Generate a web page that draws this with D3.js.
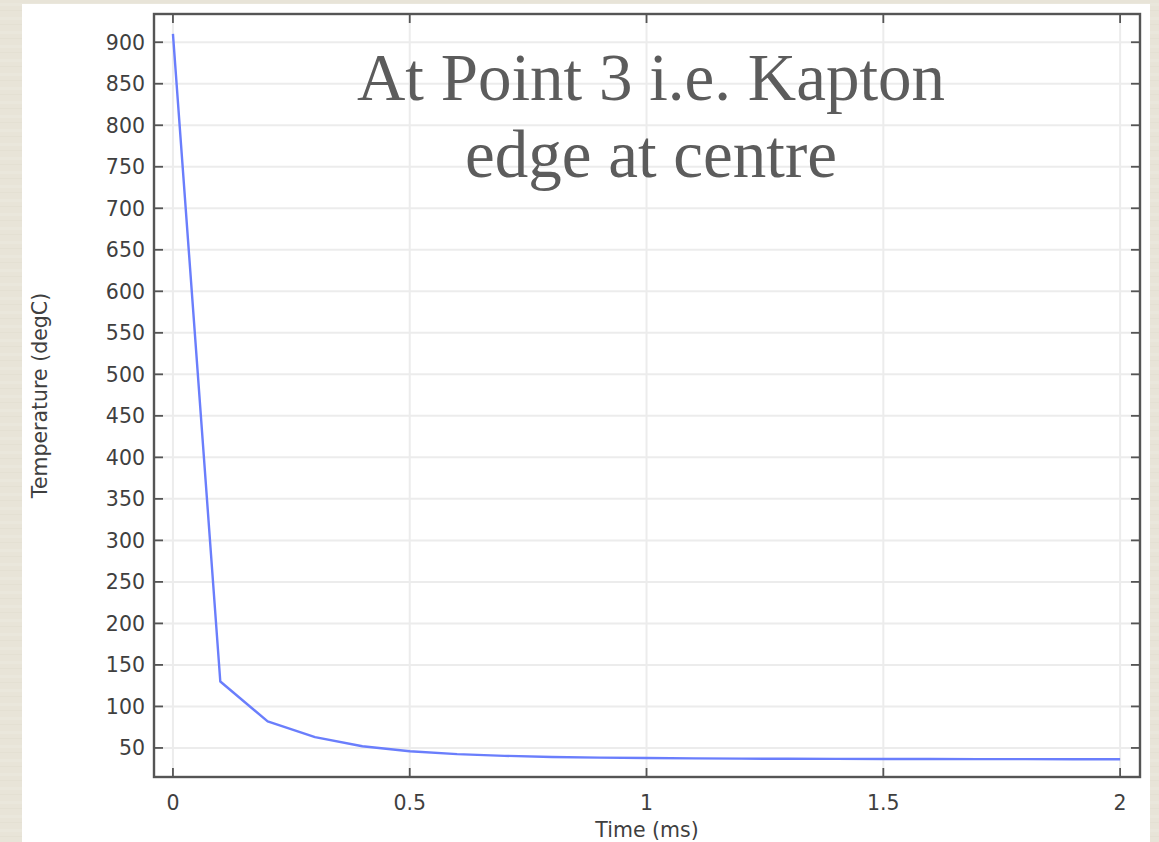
<!DOCTYPE html>
<html>
<head>
<meta charset="utf-8">
<script src="https://cdn.jsdelivr.net/npm/d3@7"></script>
<style>
  html, body { margin: 0; padding: 0; background: #e8e4d8; }
  svg { display: block; }
</style>
</head>
<body>
<svg id="chart" width="1159" height="842"></svg>
<script>
// Temperature history at point 3 (Kapton edge at centre)
const timeMs = [0, 0.1, 0.2, 0.3, 0.4, 0.5, 0.6, 0.7, 0.8, 0.9, 1.0,
                1.1, 1.2, 1.3, 1.4, 1.5, 1.6, 1.7, 1.8, 1.9, 2.0];
const tempDegC = [910, 130, 82, 63, 52, 46, 42.5, 40.5, 39, 38.3, 37.8,
                  37.4, 37.1, 36.9, 36.8, 36.7, 36.6, 36.5, 36.5, 36.4, 36.4];

const xTicks = [0, 0.5, 1, 1.5, 2];
const xTickLabels = ["0", "0.5", "1", "1.5", "2"];
const yTicks = d3.range(50, 901, 50);
const titleLines = ["At Point 3 i.e. Kapton", "edge at centre"];
const xLabel = "Time (ms)";
const yLabel = "Temperature (degC)";

const svg = d3.select("#chart");
const W = 1159, H = 842;

// plot frame
const plot = { left: 154, right: 1140, top: 14, bottom: 777 };

const x = d3.scaleLinear().domain([-0.04, 2.042]).range([plot.left, plot.right]);
const y = d3.scaleLinear().domain([15, 934]).range([plot.bottom, plot.top]);

// textured page background
const defs = svg.append("defs");
const pat = defs.append("pattern")
  .attr("id", "paper").attr("patternUnits", "userSpaceOnUse")
  .attr("width", 40).attr("height", 14);
pat.append("rect").attr("width", 40).attr("height", 14).attr("fill", "#e8e4d8");
pat.append("rect").attr("y", 3).attr("width", 40).attr("height", 3).attr("fill", "#eae7dc");
pat.append("rect").attr("y", 10).attr("width", 40).attr("height", 1).attr("fill", "#e4e0d3");
svg.append("rect").attr("width", W).attr("height", H).attr("fill", "url(#paper)");

// white figure panel
svg.append("rect")
  .attr("x", 22).attr("y", 4).attr("width", 1128).attr("height", H)
  .attr("fill", "#ffffff");

const gridColor = "#ececec";
const axisColor = "#555555";
const textColor = "#3f3f3f";

// grid lines
svg.append("g").selectAll("line.hgrid").data(yTicks).join("line")
  .attr("x1", plot.left).attr("x2", plot.right)
  .attr("y1", d => y(d)).attr("y2", d => y(d))
  .attr("stroke", gridColor).attr("stroke-width", 2);
svg.append("g").selectAll("line.vgrid").data(xTicks).join("line")
  .attr("x1", d => x(d)).attr("x2", d => x(d))
  .attr("y1", plot.top).attr("y2", plot.bottom)
  .attr("stroke", gridColor).attr("stroke-width", 2);

// data line
const line = d3.line().x((d, i) => x(timeMs[i])).y(d => y(d));
svg.append("path")
  .datum(tempDegC)
  .attr("d", line)
  .attr("fill", "none")
  .attr("stroke", "#6a7efc")
  .attr("stroke-width", 2.4)
  .attr("stroke-linejoin", "round");

// frame
svg.append("rect")
  .attr("x", plot.left).attr("y", plot.top)
  .attr("width", plot.right - plot.left).attr("height", plot.bottom - plot.top)
  .attr("fill", "none").attr("stroke", axisColor).attr("stroke-width", 2.4);

// inward ticks on all four sides
const tickLen = 9;
const tg = svg.append("g").attr("stroke", axisColor).attr("stroke-width", 1.8);
tg.selectAll("line.yl").data(yTicks).join("line")
  .attr("x1", plot.left).attr("x2", plot.left + tickLen)
  .attr("y1", d => y(d)).attr("y2", d => y(d));
tg.selectAll("line.yr").data(yTicks).join("line")
  .attr("x1", plot.right).attr("x2", plot.right - tickLen)
  .attr("y1", d => y(d)).attr("y2", d => y(d));
tg.selectAll("line.xb").data(xTicks).join("line")
  .attr("x1", d => x(d)).attr("x2", d => x(d))
  .attr("y1", plot.bottom).attr("y2", plot.bottom - tickLen);
tg.selectAll("line.xt").data(xTicks).join("line")
  .attr("x1", d => x(d)).attr("x2", d => x(d))
  .attr("y1", plot.top).attr("y2", plot.top + tickLen);

// tick labels
const tickFont = "'DejaVu Sans', sans-serif";
const tickSize = 20.5;
svg.append("g").selectAll("text").data(yTicks).join("text")
  .attr("x", plot.left - 9).attr("y", d => y(d))
  .attr("dy", "0.36em")
  .attr("text-anchor", "end")
  .attr("font-family", tickFont).attr("font-size", tickSize)
  .attr("fill", textColor)
  .text(d => d);
svg.append("g").selectAll("text").data(xTicks).join("text")
  .attr("x", d => x(d)).attr("y", 810)
  .attr("text-anchor", "middle")
  .attr("font-family", tickFont).attr("font-size", tickSize)
  .attr("fill", textColor)
  .text((d, i) => xTickLabels[i]);

// axis titles
svg.append("text")
  .attr("x", (plot.left + plot.right) / 2).attr("y", 837)
  .attr("text-anchor", "middle")
  .attr("font-family", tickFont).attr("font-size", tickSize)
  .attr("fill", textColor)
  .text(xLabel);
svg.append("text")
  .attr("transform", `translate(47,${(plot.top + plot.bottom) / 2}) rotate(-90)`)
  .attr("text-anchor", "middle")
  .attr("font-family", tickFont).attr("font-size", tickSize)
  .attr("fill", textColor)
  .text(yLabel);

// overlaid title
svg.append("g").selectAll("text").data(titleLines).join("text")
  .attr("x", 651).attr("y", (d, i) => 100 + i * 77)
  .attr("text-anchor", "middle")
  .attr("font-family", "'Liberation Serif', serif")
  .attr("font-size", 67)
  .attr("fill", "#5c5c5c")
  .text(d => d);
</script>
</body>
</html>
